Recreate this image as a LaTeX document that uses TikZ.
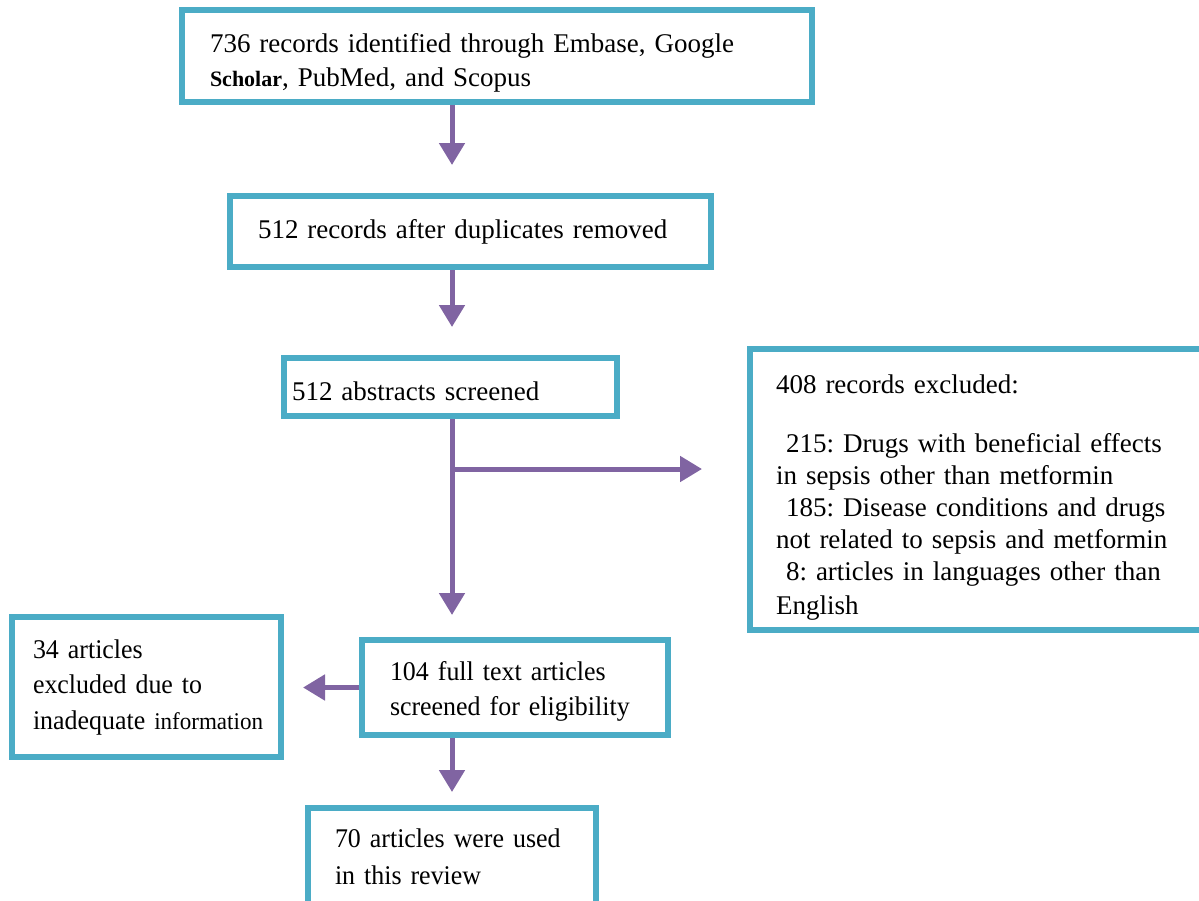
\documentclass[tikz,border=0pt]{standalone}
\usepackage{fontspec}
\setmainfont{Liberation Serif}
\newfontfamily\narrowserif[FakeStretch=0.96]{Liberation Serif}
\usepackage{tikz}
\usetikzlibrary{arrows.meta,calc}
\definecolor{frameteal}{HTML}{4BACC6}
\definecolor{flowpurple}{HTML}{8064A2}
\frenchspacing

\begin{document}
\begin{tikzpicture}[x=0.5pt,y=-0.5pt,font=\fontsize{13.5}{17}\selectfont,>={Triangle[length=11pt,width=12.5pt]},
  box/.style={draw=frameteal,line width=3pt,align=left,inner ysep=0pt},
  flow/.style={->,color=flowpurple,line width=2.5pt}]
\useasboundingbox (0,0) rectangle (1199,900);
\coordinate (trunk) at (452,0);
\coordinate (fork) at (452,469);
\node[box,minimum width=315pt,minimum height=46pt,inner xsep=14pt,text width=287pt] (identified) at (497,56) {\rule{0pt}{16pt}736 records identified through Embase, Google\\{\fontsize{11}{17}\selectfont\bfseries Scholar}, PubMed, and Scopus};
\node[box,minimum width=240.5pt,minimum height=35.5pt,inner xsep=14pt,text width=212.5pt] (dedup) at (470.5,231.5) {512 records after duplicates removed};
\node[box,minimum width=166.5pt,minimum height=29pt,inner xsep=4pt,text width=158.5pt] (abstracts) at (450.5,387) {\rule{0pt}{13.5pt}512 abstracts screened};
\node[box,minimum width=227.5pt,minimum height=140.5pt,inner xsep=13pt,text width=201.5pt,font=\fontsize{13.5}{16}\selectfont] (excluded) at (977.5,489.5) {\rule{0pt}{17pt}408 records excluded:\\[13.5pt]
  \hspace*{5pt}215: Drugs with beneficial effects\\
  in sepsis other than metformin\\
  \hspace*{5pt}185: Disease conditions and drugs\\
  not related to sepsis and metformin\\
  \hspace*{5pt}8: articles in languages other than\\[1pt]
  English};
\node[box,minimum width=134.5pt,minimum height=70pt,inner xsep=10.5pt,text width=113.5pt,font=\narrowserif\fontsize{13.5}{17.75}\selectfont] (inadequate) at (146.5,687) {34 articles\\excluded due to\\\mbox{inadequate {\fontsize{12}{17.75}\selectfont information}}};
\node[box,minimum width=153pt,minimum height=47.5pt,inner xsep=14pt,text width=125pt,font=\narrowserif\fontsize{13.5}{17.5}\selectfont] (fulltext) at (515,687.5) {\rule{0pt}{13.5pt}104 full text articles\\screened for eligibility};
\node[box,minimum width=144pt,minimum height=48.5pt,inner xsep=13.5pt,text width=117pt,font=\narrowserif\fontsize{13.5}{18.5}\selectfont] (review) at (452,856.5) {70 articles were used\\in this review};
\draw[flow,shorten >=14pt] (identified.south -| trunk) -- (dedup.north -| trunk);
\draw[flow,shorten >=14pt] (dedup.south -| trunk) -- (abstracts.north -| trunk);
\draw[flow,shorten >=11pt] (abstracts.south -| trunk) -- (fulltext.north -| trunk);
\draw[flow,shorten >=22.5pt] (fork) -- (excluded.west |- fork);
\draw[flow,shorten >=9.5pt] (fulltext.west) -- (inadequate.east |- fulltext.west);
\draw[flow,shorten >=6.5pt] (fulltext.south -| trunk) -- (review.north -| trunk);
\end{tikzpicture}
\end{document}
